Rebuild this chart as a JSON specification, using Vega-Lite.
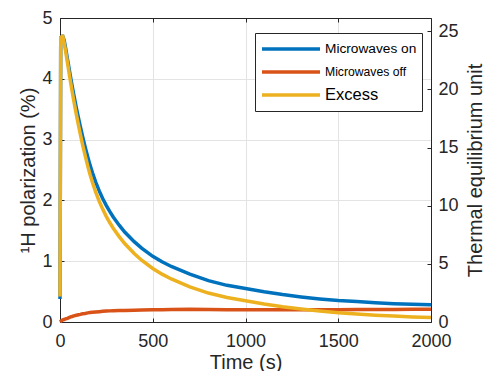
{
  "$schema": "https://vega.github.io/schema/vega-lite/v6.json",
  "width": 371,
  "height": 304,
  "autosize": {"type": "none"},
  "padding": {"left": 60, "top": 18, "right": 54, "bottom": 49},
  "background": "white",
  "config": {
    "font": "Liberation Sans",
    "view": {"stroke": null},
    "axis": {
      "labelFont": "Liberation Sans",
      "titleFont": "Liberation Sans",
      "labelFontSize": 18,
      "titleFontSize": 20,
      "titleFontWeight": "normal",
      "labelColor": "#262626",
      "titleColor": "#262626",
      "domainColor": "#262626",
      "tickColor": "#262626",
      "gridColor": "#e3e3e3",
      "tickSize": -4,
      "domainWidth": 1
    }
  },
  "layer": [
    {
      "data": {
        "values": [
          {"t": 0, "on": 0.38, "off": 0.0, "excess": 0.42},
          {"t": 4, "on": 4.68, "off": 0.01, "excess": 4.68},
          {"t": 12, "on": 4.7, "off": 0.03, "excess": 4.7},
          {"t": 15, "on": 4.7, "off": 0.035, "excess": 4.7},
          {"t": 22, "on": 4.64, "off": 0.04, "excess": 4.6},
          {"t": 30, "on": 4.51, "off": 0.05, "excess": 4.46},
          {"t": 40, "on": 4.33, "off": 0.06, "excess": 4.27},
          {"t": 54, "on": 4.08, "off": 0.08, "excess": 4.0},
          {"t": 65, "on": 3.89, "off": 0.09, "excess": 3.8},
          {"t": 75, "on": 3.727, "off": 0.1, "excess": 3.627},
          {"t": 88, "on": 3.524, "off": 0.11, "excess": 3.414},
          {"t": 100, "on": 3.349, "off": 0.12, "excess": 3.229},
          {"t": 110, "on": 3.208, "off": 0.125, "excess": 3.083},
          {"t": 122, "on": 3.05, "off": 0.135, "excess": 2.915},
          {"t": 135, "on": 2.884, "off": 0.14, "excess": 2.744},
          {"t": 150, "on": 2.709, "off": 0.15, "excess": 2.559},
          {"t": 162, "on": 2.58, "off": 0.155, "excess": 2.425},
          {"t": 175, "on": 2.453, "off": 0.16, "excess": 2.293},
          {"t": 192, "on": 2.305, "off": 0.165, "excess": 2.14},
          {"t": 212, "on": 2.152, "off": 0.17, "excess": 1.982},
          {"t": 230, "on": 2.032, "off": 0.175, "excess": 1.857},
          {"t": 250, "on": 1.914, "off": 0.18, "excess": 1.734},
          {"t": 268, "on": 1.819, "off": 0.183, "excess": 1.636},
          {"t": 287, "on": 1.727, "off": 0.185, "excess": 1.542},
          {"t": 320, "on": 1.588, "off": 0.188, "excess": 1.4},
          {"t": 350, "on": 1.476, "off": 0.19, "excess": 1.286},
          {"t": 400, "on": 1.321, "off": 0.195, "excess": 1.126},
          {"t": 440, "on": 1.214, "off": 0.198, "excess": 1.016},
          {"t": 500, "on": 1.08, "off": 0.2, "excess": 0.88},
          {"t": 550, "on": 0.99, "off": 0.203, "excess": 0.787},
          {"t": 600, "on": 0.913, "off": 0.205, "excess": 0.708},
          {"t": 700, "on": 0.789, "off": 0.21, "excess": 0.579},
          {"t": 800, "on": 0.681, "off": 0.205, "excess": 0.476},
          {"t": 900, "on": 0.603, "off": 0.2, "excess": 0.403},
          {"t": 1000, "on": 0.55, "off": 0.2, "excess": 0.35},
          {"t": 1100, "on": 0.496, "off": 0.2, "excess": 0.296},
          {"t": 1200, "on": 0.451, "off": 0.2, "excess": 0.251},
          {"t": 1300, "on": 0.413, "off": 0.2, "excess": 0.213},
          {"t": 1400, "on": 0.38, "off": 0.2, "excess": 0.18},
          {"t": 1500, "on": 0.353, "off": 0.2, "excess": 0.153},
          {"t": 1600, "on": 0.336, "off": 0.205, "excess": 0.131},
          {"t": 1700, "on": 0.318, "off": 0.205, "excess": 0.113},
          {"t": 1800, "on": 0.302, "off": 0.205, "excess": 0.097},
          {"t": 1900, "on": 0.291, "off": 0.208, "excess": 0.083},
          {"t": 2000, "on": 0.282, "off": 0.21, "excess": 0.072}
        ]
      },
      "transform": [{"fold": ["on", "off", "excess"], "as": ["series", "p"]}],
      "mark": {"type": "line", "strokeWidth": 3.5},
      "encoding": {
        "x": {
          "field": "t",
          "type": "quantitative",
          "scale": {"domain": [0, 2000], "nice": false},
          "axis": {
            "orient": "bottom",
            "values": [0, 500, 1000, 1500, 2000],
            "format": "d",
            "grid": true,
            "title": "Time (s)",
            "labelPadding": 14,
            "titlePadding": 2,
            "labelFlush": false
          }
        },
        "y": {
          "field": "p",
          "type": "quantitative",
          "scale": {"domain": [0, 5], "nice": false},
          "axis": {
            "orient": "left",
            "values": [0, 1, 2, 3, 4, 5],
            "format": "d",
            "grid": true,
            "title": "¹H polarization (%)",
            "labelPadding": 12,
            "titlePadding": 3
          }
        },
        "color": {
          "field": "series",
          "type": "nominal",
          "scale": {"domain": ["on", "off", "excess"], "range": ["#0072BD", "#D95319", "#EDB120"]},
          "legend": {
            "orient": "none",
            "legendX": 195,
            "legendY": 15,
            "title": null,
            "labelExpr": "datum.value == 'on' ? 'Microwaves on' : datum.value == 'off' ? 'Microwaves off' : 'Excess'",
            "symbolType": "stroke",
            "symbolSize": 3364,
            "symbolStrokeWidth": 3.5,
            "labelFont": "Liberation Sans",
            "labelFontSize": {"expr": "datum.value == 'excess' ? 16.5 : datum.value == 'off' ? 12.2 : 13.7"},
            "labelColor": "#000000",
            "labelOffset": 3,
            "fillColor": "white",
            "strokeColor": "#262626",
            "padding": 5,
            "clipHeight": 22,
            "rowPadding": 1,
            "symbolOffset": 0,
            "labelLimit": 200
          }
        }
      }
    },
    {
      "data": {"values": [{"t2": 0, "te": 0}]},
      "mark": {"type": "point", "opacity": 0},
      "encoding": {
        "x": {
          "field": "t2",
          "type": "quantitative",
          "scale": {"domain": [0, 2000], "nice": false},
          "axis": {
            "orient": "top",
            "values": [0, 500, 1000, 1500, 2000],
            "labels": false,
            "grid": false,
            "title": null
          }
        },
        "y": {
          "field": "te",
          "type": "quantitative",
          "scale": {"domain": [0, 26.15], "nice": false},
          "axis": {
            "orient": "right",
            "values": [0, 5, 10, 15, 20, 25],
            "format": "d",
            "grid": false,
            "title": "Thermal equilibrium unit",
            "titleAngle": 270,
            "labelPadding": 11,
            "titlePadding": 27
          }
        }
      }
    }
  ],
  "resolve": {"scale": {"x": "independent", "y": "independent"}}
}
